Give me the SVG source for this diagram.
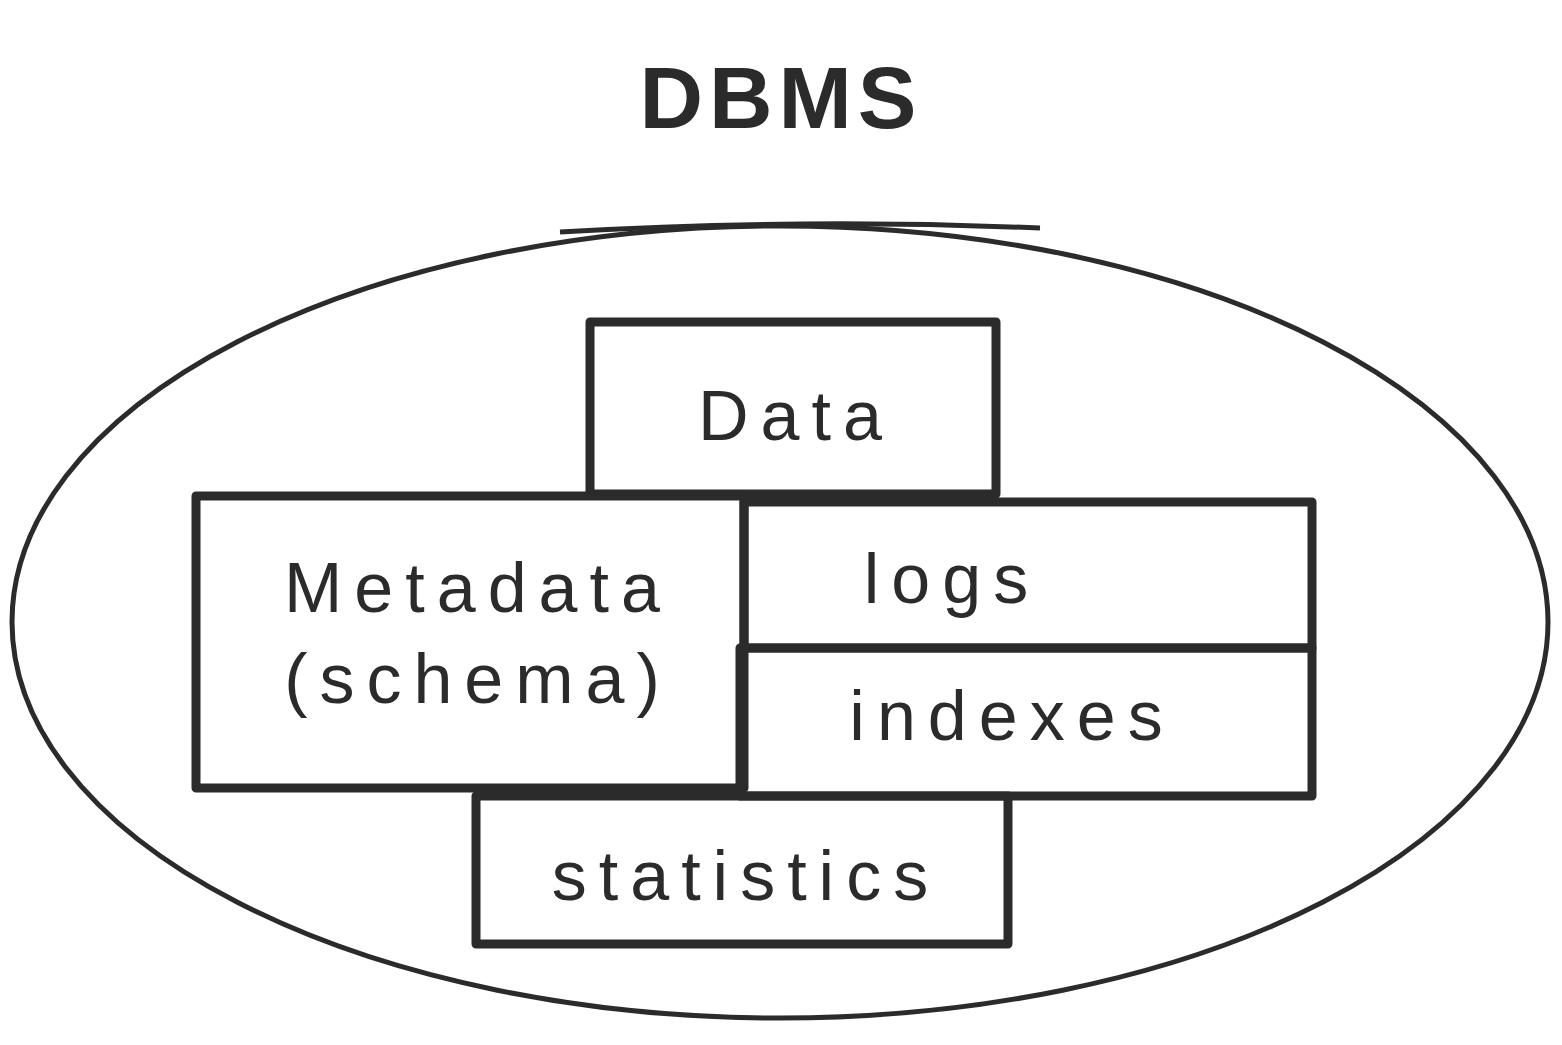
<svg xmlns="http://www.w3.org/2000/svg" width="1562" height="1045" viewBox="0 0 1562 1045">
<style>
.box{fill:none;stroke:#2b2b2b;stroke-width:9;stroke-linejoin:round}
.lbl{font-family:"Liberation Sans",Arial,sans-serif;font-size:70px;fill:#2b2b2b;text-anchor:middle;letter-spacing:12px}
.title{font-family:"Liberation Sans",Arial,sans-serif;font-size:88px;font-weight:bold;fill:#2b2b2b;text-anchor:middle;letter-spacing:6px}
</style>
<rect width="1562" height="1045" fill="#ffffff"/>
<g id="title"><text class="title" x="781" y="128">DBMS</text></g>
<g id="dbms-boundary">
<ellipse cx="780" cy="622" rx="768" ry="396" fill="none" stroke="#2b2b2b" stroke-width="5"/>
<path d="M560 232 Q800 218 1040 228" fill="none" stroke="#2b2b2b" stroke-width="5"/>
</g>
<g id="node-data">
<rect class="box" x="590" y="322" width="406" height="172"/>
<text class="lbl" x="796" y="440">Data</text>
</g>
<g id="node-metadata">
<rect class="box" x="196" y="496" width="548" height="292"/>
<text class="lbl" x="478" y="612">Metadata</text>
<text class="lbl" x="478" y="703">(schema)</text>
</g>
<g id="node-logs">
<rect class="box" x="744" y="502" width="568" height="146"/>
<text class="lbl" x="952" y="603">logs</text>
</g>
<g id="node-indexes">
<rect class="box" x="740" y="648" width="572" height="148"/>
<text class="lbl" x="1012" y="740">indexes</text>
</g>
<g id="node-statistics">
<rect class="box" x="476" y="796" width="532" height="148"/>
<text class="lbl" x="746" y="900">statistics</text>
</g>
<g id="connectors"></g>
</svg>
